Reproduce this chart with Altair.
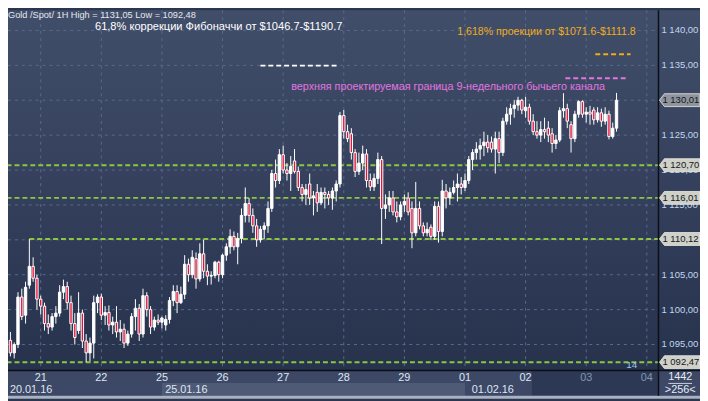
import altair as alt
import pandas as pd

# ---------------- data ----------------
OPEN = [1095.6,1093.8,1095.0,1101.8,1099.2,1103.5,1106.2,1104.5,1101.5,1100.5,
        1098.0,1097.5,1099.0,1099.5,1102.5,1103.3,1101.0,1098.0,1097.0,1099.5,
        1095.5,1093.8,1095.2,1101.0,1101.8,1099.2,1099.6,1097.8,1098.2,1096.8,
        1097.2,1095.2,1096.5,1099.0,1100.2,1096.5,1102.0,1100.0,1097.5,1098.5,
        1098.2,1097.8,1098.6,1101.3,1102.6,1101.0,1102.2,1106.5,1105.0,1107.3,
        1104.4,1108.0,1105.5,1104.8,1104.9,1106.8,1105.0,1107.8,1109.0,1110.5,
        1109.0,1110.2,1113.5,1115.2,1113.5,1112.0,1110.0,1111.5,1112.0,1114.5,
        1119.5,1118.5,1122.2,1120.0,1119.5,1121.3,1119.8,1117.5,1116.5,1118.0,
        1116.0,1116.8,1115.3,1116.8,1116.5,1116.0,1117.0,1118.0,1127.8,1125.5,
        1125.2,1122.5,1119.8,1121.0,1122.3,1118.5,1117.6,1118.8,1121.5,1114.5,
        1115.0,1116.0,1114.0,1113.3,1115.0,1116.0,1114.5,1111.0,1114.5,1112.0,
        1111.0,1111.8,1110.5,1114.8,1111.2,1117.0,1116.0,1116.8,1117.5,1118.0,
        1117.5,1118.5,1121.5,1122.5,1123.0,1123.5,1124.0,1124.0,1123.0,1124.5,
        1122.5,1127.0,1128.0,1128.8,1129.3,1130.0,1128.5,1129.0,1127.0,1125.5,
        1125.0,1125.8,1126.0,1125.2,1123.8,1124.3,1128.5,1128.8,1126.5,1124.5,
        1128.0,1129.8,1128.0,1128.3,1128.6,1127.2,1128.2,1127.0,1128.0,1124.8,
        1126.0]
HIGH = [1096.8,1095.3,1102.5,1103.0,1104.0,1110.1,1107.5,1105.0,1102.0,1101.0,
        1099.3,1099.5,1100.5,1103.5,1104.3,1104.0,1102.0,1099.5,1102.5,1100.0,
        1096.5,1096.0,1102.0,1102.2,1102.3,1100.5,1100.6,1099.0,1100.5,1098.5,
        1098.0,1097.0,1099.5,1101.5,1100.8,1103.0,1102.5,1100.5,1099.0,1099.3,
        1099.0,1099.2,1101.8,1103.5,1103.5,1103.3,1107.8,1107.3,1108.5,1108.2,
        1109.5,1110.0,1106.5,1105.5,1107.0,1107.0,1108.0,1109.5,1111.5,1111.2,
        1111.0,1114.5,1117.5,1116.0,1114.5,1113.0,1112.0,1112.5,1115.5,1120.0,
        1121.5,1123.0,1123.5,1121.0,1122.0,1123.0,1120.5,1118.0,1118.0,1119.5,
        1117.0,1118.0,1117.5,1117.5,1117.0,1117.5,1118.5,1128.3,1128.6,1126.5,
        1126.0,1123.0,1122.5,1123.5,1123.0,1119.5,1119.5,1122.5,1122.0,1116.5,
        1117.0,1117.0,1115.5,1115.5,1116.5,1116.8,1115.5,1118.3,1115.5,1112.5,
        1112.5,1112.2,1115.5,1115.5,1118.6,1118.0,1117.5,1118.5,1119.5,1119.0,
        1119.5,1122.0,1123.0,1124.0,1124.5,1125.5,1125.0,1124.8,1125.5,1125.5,
        1127.5,1129.0,1129.5,1130.0,1130.5,1130.2,1130.5,1129.5,1128.0,1127.0,
        1127.0,1127.5,1127.0,1126.0,1125.0,1129.0,1131.0,1129.5,1127.0,1128.5,
        1130.0,1130.0,1129.0,1129.2,1129.0,1129.0,1128.8,1129.0,1128.5,1126.8,
        1131.05]
LOW = [1093.3,1093.0,1094.5,1098.5,1098.0,1103.0,1104.0,1100.0,1099.3,1097.0,
       1096.5,1097.0,1098.0,1099.0,1101.5,1100.0,1097.0,1095.0,1096.5,1094.5,
       1092.48,1092.6,1093.0,1099.5,1098.5,1097.8,1097.0,1096.5,1096.0,1095.5,
       1094.5,1094.8,1096.0,1097.0,1095.5,1096.0,1099.0,1096.5,1097.0,1097.8,
       1097.3,1097.0,1098.0,1100.5,1099.5,1100.8,1101.5,1104.0,1104.5,1103.0,
       1104.0,1104.5,1103.5,1103.6,1104.5,1104.0,1104.5,1107.0,1108.0,1108.5,
       1106.5,1109.5,1112.5,1112.5,1111.0,1109.0,1109.6,1110.1,1111.0,1114.0,
       1117.5,1118.0,1119.5,1118.5,1117.0,1119.5,1117.0,1115.5,1115.0,1115.0,
       1113.5,1114.0,1115.0,1114.5,1115.0,1114.3,1115.5,1117.5,1124.5,1124.0,
       1121.5,1119.0,1119.3,1120.0,1117.5,1117.0,1117.0,1118.0,1109.4,1113.0,
       1114.0,1113.5,1112.5,1112.8,1114.0,1113.5,1108.8,1110.5,1111.5,1110.5,
       1110.5,1110.0,1110.0,1109.6,1110.5,1114.5,1115.0,1116.5,1115.5,1116.5,
       1117.0,1118.0,1120.0,1121.5,1121.5,1122.0,1122.5,1122.5,1119.5,1121.0,
       1122.0,1126.5,1126.5,1127.5,1128.5,1128.0,1127.5,1126.5,1125.0,1124.5,
       1124.0,1124.5,1124.0,1122.5,1123.0,1124.0,1127.5,1126.0,1122.5,1124.0,
       1127.5,1127.5,1126.8,1126.5,1126.5,1126.8,1126.2,1126.5,1124.4,1124.5,
       1125.5]
CLOSE = [1093.8,1095.0,1101.8,1099.0,1103.2,1106.2,1104.5,1101.5,1100.5,1098.0,
         1097.5,1099.0,1099.5,1102.5,1103.3,1101.0,1098.0,1096.0,1099.5,1095.5,
         1093.8,1095.2,1101.0,1101.8,1099.2,1099.6,1097.8,1098.2,1096.8,1097.2,
         1095.2,1096.5,1099.0,1100.2,1096.5,1102.0,1100.0,1097.5,1098.5,1098.2,
         1098.8,1098.6,1101.3,1102.6,1101.0,1102.2,1106.5,1105.0,1107.5,1104.4,
         1108.0,1105.5,1104.8,1104.9,1106.8,1105.0,1107.8,1109.0,1110.5,1109.0,
         1110.2,1113.5,1115.2,1113.5,1112.0,1110.0,1111.5,1112.0,1114.5,1119.5,
         1118.5,1122.2,1120.0,1119.5,1120.5,1119.8,1117.5,1116.5,1117.2,1116.0,
         1116.3,1115.3,1116.8,1116.5,1116.0,1117.0,1118.0,1127.8,1125.5,1124.5,
         1122.5,1119.8,1121.0,1122.3,1118.5,1117.6,1118.8,1121.5,1114.5,1115.0,
         1116.0,1114.0,1113.3,1115.0,1115.5,1114.0,1111.0,1114.5,1112.0,1111.0,
         1111.5,1110.5,1114.8,1111.2,1117.0,1116.0,1116.8,1117.5,1118.0,1117.5,
         1118.5,1121.5,1122.5,1123.0,1123.5,1124.0,1123.2,1123.0,1124.5,1122.5,
         1127.0,1128.0,1128.8,1129.3,1130.0,1128.6,1129.0,1127.0,1125.5,1125.0,
         1125.8,1125.5,1125.0,1123.8,1124.3,1128.5,1128.8,1127.0,1124.5,1128.0,
         1129.8,1128.0,1128.3,1128.0,1127.2,1128.2,1127.0,1128.0,1124.8,1126.0,
         1130.01]
# hourly bar index (16 bars drawn per session; session start of "21" = 0)
HOUR = list(range(-8, -8 + len(OPEN)))

DAY_T = [0, 16, 32, 48, 64, 80, 96, 112, 128, 144, 160]
DAY_LABELS = ["21", "22", "25", "26", "27", "28", "29", "01", "02", "03", "04"]
DAY_DIM = [False] * 9 + [True, True]

GRID_PRICES = [1095, 1100, 1105, 1110, 1115, 1120, 1125, 1130, 1135, 1140]
LABEL_PRICES = [1095, 1100, 1105, 1115, 1120, 1125, 1135, 1140]
AXIS_LABELS = ["1 095,00", "1 100,00", "1 105,00", "1 115,00",
               "1 120,00", "1 125,00", "1 135,00", "1 140,00"]

LEVELS = [1120.70, 1116.01, 1110.12, 1092.47]
LEVEL_START = [-9, -9, -3, -9]

TAG_PRICES = [1130.01, 1120.70, 1116.01, 1110.12, 1092.47]
TAG_TEXT = ["1 130,01", "1 120,70", "1 116,01", "1 110,12", "1 092,47"]
TAG_FILL = ["#8f949d", "#cfd0c8", "#cfd0c8", "#cfd0c8", "#cfd0c8"]

# annotation lines: price, start hour, end hour, colour
ANN_PRICE = [1134.96, 1136.6, 1133.16]
ANN_T0 = [58.0, 146.4, 138.5]
ANN_T1 = [78.1, 155.7, 155.2]
ANN_COLOR = ["#ffffff", "#f2ac18", "#e276e0"]

FONT = "Liberation Sans"

# ---------------- scales ----------------
XS = alt.Scale(domain=[-7.331, 172.733], nice=False, zero=False)
YS = alt.Scale(domain=[1087.229, 1142.895], nice=False, zero=False)


def X(f):
    return alt.X(f, type="quantitative", scale=XS, axis=None)


def Y(f):
    return alt.Y(f, type="quantitative", scale=YS, axis=None)


one = pd.DataFrame({"a": [0]})

candles = pd.DataFrame({"t": HOUR, "open": OPEN, "high": HIGH, "low": LOW, "close": CLOSE})
days = pd.DataFrame({"t": DAY_T, "label": DAY_LABELS, "dim": DAY_DIM})
grid = pd.DataFrame({"p": GRID_PRICES})
ylabels = pd.DataFrame({"p": LABEL_PRICES, "label": AXIS_LABELS})
levels = pd.DataFrame({"p": LEVELS, "t0": LEVEL_START})
tags = pd.DataFrame({"p": TAG_PRICES, "label": TAG_TEXT, "fill": TAG_FILL})
ann = pd.DataFrame({"p": ANN_PRICE, "t0": ANN_T0, "t1": ANN_T1, "c": ANN_COLOR})

grad = alt.Gradient(gradient="linear", x1=0, x2=0, y1=0, y2=1,
                    stops=[alt.GradientStop(color="#414e6a", offset=0),
                           alt.GradientStop(color="#27324d", offset=1)])

layers = []
# backgrounds
layers.append(alt.Chart(one).mark_rect(color=grad).encode(
    x=alt.value(0), x2=alt.value(700), y=alt.value(0), y2=alt.value(364)))
layers.append(alt.Chart(one).mark_rect(color="#3c4866").encode(
    x=alt.value(0), x2=alt.value(700), y=alt.value(364), y2=alt.value(390)))
layers.append(alt.Chart(one).mark_rect(color="#4f5b76").encode(
    x=X("a0:Q"), x2="a1:Q", y=alt.value(377), y2=alt.value(390)
).transform_calculate(a0="32", a1="112"))
layers.append(alt.Chart(one).mark_rect(color="#2d3954").encode(
    x=alt.value(530), x2=alt.value(658), y=alt.value(365), y2=alt.value(390)))
layers.append(alt.Chart(one).mark_rect(color="#aab2c2").encode(
    x=alt.value(0), x2=alt.value(700), y=alt.value(390), y2=alt.value(393)))

# grid
layers.append(alt.Chart(grid).mark_rule(color="#596a8c", strokeDash=[3, 4], strokeWidth=1).encode(
    y=Y("p"), x=alt.value(0), x2=alt.value(658)))
layers.append(alt.Chart(days).mark_rule(color="#596a8c", strokeDash=[3, 4], strokeWidth=1).encode(
    x=X("t"), y=alt.value(0), y2=alt.value(364)))

# green levels
layers.append(alt.Chart(levels).mark_rule(color="#8dc641", strokeDash=[5, 3], strokeWidth=2).encode(
    y=Y("p"), x=X("t0"), x2=alt.value(658)))

# candles
layers.append(alt.Chart(candles).mark_rule(color="white", strokeWidth=1).encode(
    x=X("t"), y=Y("low"), y2="high:Q"))
layers.append(alt.Chart(candles).mark_bar(size=2.4, stroke="white", strokeWidth=1).encode(
    x=X("t"), y=Y("open"), y2="close:Q",
    fill=alt.condition("datum.close >= datum.open", alt.value("#ffffff"), alt.value("#e4143c"))))

# annotation dashed lines
layers.append(alt.Chart(ann).mark_rule(strokeDash=[5, 3], strokeWidth=2).encode(
    y=Y("p"), x=X("t0"), x2="t1:Q", color=alt.Color("c:N", scale=None)))


# annotation texts
def label(text, x, y, color, size=12, align="left", baseline="middle", weight="normal"):
    return alt.Chart(pd.DataFrame({"s": [text]})).mark_text(
        font=FONT, fontSize=size, color=color, align=align, baseline=baseline,
        fontWeight=weight).encode(text="s:N", x=alt.value(x), y=alt.value(y))


layers.append(label("Gold /Spot/ 1H High = 1131,05 Low = 1092,48", 0, 0.5, "#e6e8ee", 9.3, baseline="top"))
layers.append(label("61,8% коррекции Фибоначчи от $1046.7-$1190.7", 88, 16.5, "#ffffff", 11.2))
layers.append(label("1,618% проекции от $1071.6-$1111.8", 635, 22.5, "#f2ac18", 10.7, align="right"))
layers.append(label("верхняя проектируемая граница 9-недельного бычьего канала", 604, 77.5, "#e276e0", 10.9, align="right"))
layers.append(label("14", 631, 359, "#9cc8f0", 10, align="center"))

# right price labels
layers.append(alt.Chart(ylabels).mark_text(font=FONT, fontSize=9.6, color="#c2d6f0", align="left",
                                            baseline="middle").encode(
    y=Y("p"), x=alt.value(661), text="label:N"))

# separators
layers.append(alt.Chart(one).mark_rule(color="#0c0f16", strokeWidth=1.5).encode(
    x=alt.value(0), x2=alt.value(700), y=alt.value(364.5)))
layers.append(alt.Chart(one).mark_rule(color="#0c0f16", strokeWidth=1.5).encode(
    x=alt.value(658), y=alt.value(0), y2=alt.value(390)))

# price tags
TAG_PATH = "M -1 0 L -0.756 -0.317 L 1 -0.317 L 1 0.317 L -0.756 0.317 Z"
layers.append(alt.Chart(tags).mark_point(shape=TAG_PATH, size=1681, filled=True, opacity=1,
                                          stroke="#eeeee6", strokeWidth=0.8).encode(
    y=Y("p"), x=alt.value(679.5), fill=alt.Fill("fill:N", scale=None)))
layers.append(alt.Chart(tags).mark_text(font=FONT, fontSize=9.6, color="#121722", align="left",
                                         baseline="middle").encode(
    y=Y("p"), x=alt.value(662), text="label:N"))

# bottom axis
layers.append(alt.Chart(days).mark_text(font=FONT, fontSize=11, align="center", baseline="middle").encode(
    x=X("t"), y=alt.value(372.5), text="label:N",
    color=alt.condition("datum.dim", alt.value("#8494b2"), alt.value("#dfe6f2"))))
layers.append(label("20.01.16", 2, 384, "#dfe6f2", 11))
layers.append(label("25.01.16", 159, 384, "#dfe6f2", 11))
layers.append(label("01.02.16", 469, 384, "#dfe6f2", 11))
layers.append(label("1442", 680, 371, "#e6ecf4", 11, align="center"))
layers.append(alt.Chart(one).mark_rule(color="#c8d0dc", strokeWidth=1).encode(
    x=alt.value(668), x2=alt.value(692), y=alt.value(377.5)))
layers.append(label(">256<", 680, 384.5, "#e6ecf4", 11, align="center"))

chart = alt.layer(*layers).properties(
    width=700, height=393, padding=0, autosize=alt.AutoSizeParams(type="none"),
    background="#2b3651"
).configure_view(stroke=None)

chart.save("out.html", embed_options={"renderer": "svg", "actions": False})
